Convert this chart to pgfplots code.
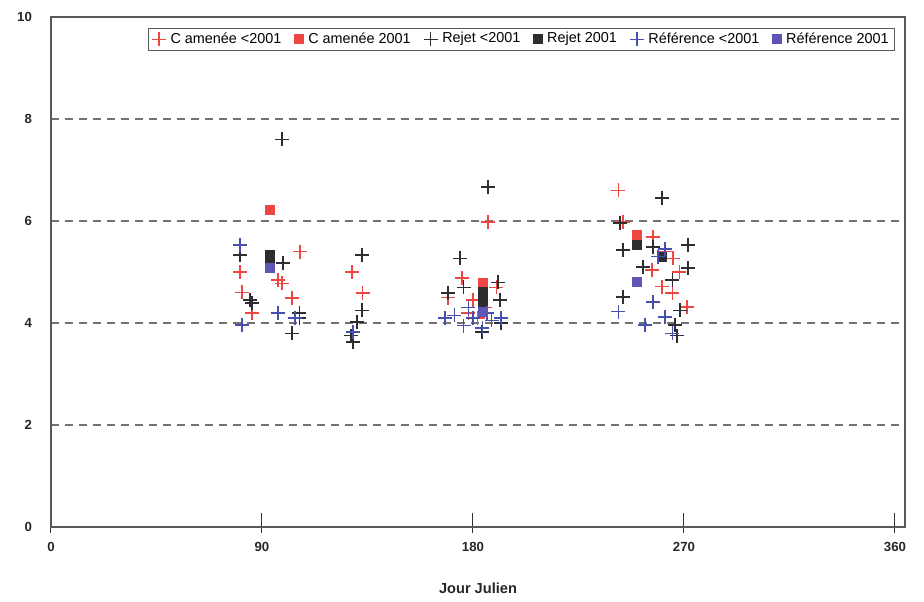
\documentclass[border=0pt]{standalone}
\usepackage{fontspec}
\setmainfont{Liberation Sans}
\usepackage{pgfplots}
\pgfplotsset{compat=1.18}
\usetikzlibrary{calc}
\definecolor{camred}{RGB}{238,70,66}
\definecolor{rejgray}{RGB}{45,45,50}
\definecolor{refblue}{RGB}{70,80,175}
\definecolor{refsq}{RGB}{95,85,185}

\begin{document}
\begin{tikzpicture}
\begin{axis}[
  scale only axis,
  width=427pt, height=255pt,
  xmin=0, xmax=364.3, ymin=0, ymax=10,
  xtick={0,90,180,270,360},
  ytick={0,2,4,6,8,10},
  xtick pos=bottom, ytick pos=left,
  ymajorgrids,
  major grid style={draw=black!55, dash pattern=on 4pt off 3pt, line width=0.6pt},
  axis line style={draw=gray!70!black, line width=0.6pt},
  tick align=center,
  major tick length=10pt,
  xtick style={draw=gray!40!black, line width=0.5pt, yshift=2pt},
  ytick style={draw=none},
  tick label style={font=\bfseries\fontsize{6.6}{8}\selectfont, text=black!85},
  /pgf/number format/assume math mode=true,
  xticklabel style={yshift=1pt},
  yticklabel style={xshift=-1pt},
  xlabel={Jour Julien},
  xlabel style={font=\bfseries\fontsize{7.3}{8.5}\selectfont, text=black!85, yshift=-9pt},
  legend columns=6,
  legend style={at={(1,1)}, anchor=north east, xshift=-5pt, yshift=-5.5pt,
    font=\fontsize{7.2}{8}\selectfont, draw=gray!70!black,
    inner xsep=2pt, inner ysep=0.8pt, row sep=0pt,
    nodes={inner ysep=1.2pt, inner xsep=1pt},
    /tikz/every even column/.append style={column sep=5.5pt},
    /tikz/every odd column/.append style={column sep=1.3pt}},
  legend cell align=left,
  legend image code/.code={\draw[mark repeat=2, mark phase=2]
    plot coordinates {(0cm,0cm) (0.12cm,0cm) (0.24cm,0cm)};},
]
% C amenee <2001
\addplot[only marks, mark=+, mark size=3.5pt, camred, line width=0.7pt] coordinates {
  (80.6,5.0) (81.5,4.6) (85.8,4.2) (96.8,4.84) (98.5,4.78) (102.8,4.49) (106.3,5.4)
  (128.4,5.0) (133,4.59)
  (186.4,5.98) (175.3,4.88) (169.4,4.5) (178,4.2) (182,4.1) (185,4.3) (190,4.7) (192,4.0) (180,4.45)
  (242,6.6) (244,5.98) (256.8,5.69) (265.4,5.27) (256.4,5.04) (260.7,4.71) (265,4.59)
  (271.3,4.31) (262,5.4) (268,5.0)
};
\addlegendentry{C amenée <2001}
% C amenee 2001
\addplot[only marks, mark=square*, mark size=2.3pt, camred, mark options={draw=camred, fill=camred}] coordinates {
  (93.4,6.22) (184.3,4.78) (250,5.73) (184.3,4.65)
};
\addlegendentry{C amenée 2001}
% Rejet <2001
\addplot[only marks, mark=+, mark size=3.5pt, rejgray, line width=0.7pt] coordinates {
  (80.6,5.33) (84.9,4.45) (85.8,4.39) (98.5,7.6) (99,5.18) (106,4.2) (106,4.1) (102.8,3.8)
  (132.7,5.33) (132.7,4.25) (130.5,4.02) (128.8,3.63) (128,3.75)
  (186.4,6.67) (174.5,5.27) (169.4,4.59) (190.7,4.8) (191.5,4.45) (183.9,3.82) (176,4.7) (192,4.0) (186,4.2)
  (260.7,6.45) (242.7,5.96) (244,5.43) (256.8,5.49) (271.8,5.53) (252.6,5.1) (271.8,5.08)
  (265,4.84) (244,4.51) (268.3,4.25) (266.2,3.96) (267,3.75)
};
\addlegendentry{Rejet <2001}
% Rejet 2001
\addplot[only marks, mark=square*, mark size=2.3pt, rejgray, mark options={draw=rejgray, fill=rejgray}] coordinates {
  (93.4,5.33) (93.4,5.22) (184.3,4.6) (184.3,4.45) (184.3,4.35) (250,5.53) (260.7,5.29)
};
\addlegendentry{Rejet 2001}
% Reference <2001
\addplot[only marks, mark=+, mark size=3.5pt, refblue, line width=0.7pt] coordinates {
  (80.6,5.53) (81.5,3.96) (96.8,4.2) (104,4.1) (128.8,3.82)
  (168,4.1) (172,4.15) (176,3.95) (180,4.1) (184,3.9) (188,4.05) (192,4.1) (178,4.3) (186,4.2)
  (242,4.22) (256.8,4.41) (262,4.12) (253.4,3.96) (265,3.8) (259,5.3) (262,5.45)
};
\addlegendentry{Référence <2001}
% Reference 2001
\addplot[only marks, mark=square*, mark size=2.3pt, refsq, mark options={draw=refsq, fill=refsq}] coordinates {
  (93.4,5.08) (250,4.8) (184.3,4.22)
};
\addlegendentry{Référence 2001}
\end{axis}
\pgfresetboundingbox
\path[use as bounding box] ($(current axis.south west)+(-25.5pt,-37pt)$)
  rectangle ($(current axis.north east)+(9.5pt,8.5pt)$);
\end{tikzpicture}
\end{document}
